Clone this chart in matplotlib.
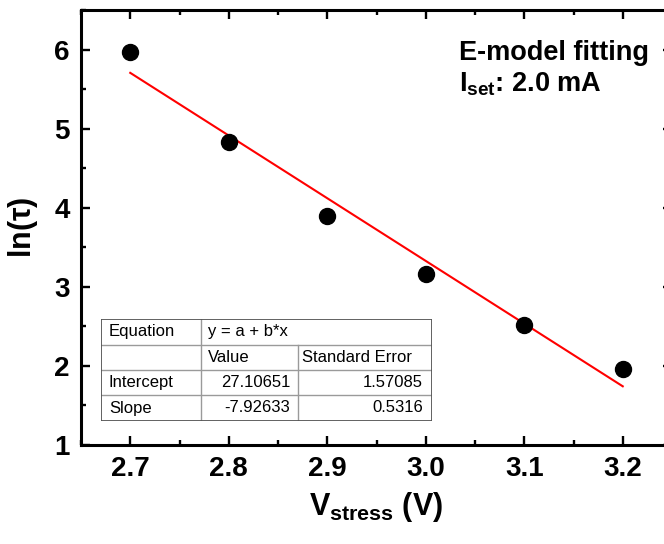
import numpy as np
import matplotlib
matplotlib.use('Agg')
import matplotlib.pyplot as plt
from matplotlib.ticker import MultipleLocator, FormatStrFormatter

plt.rcParams['font.family'] = 'Liberation Sans'
plt.rcParams['font.weight'] = 'bold'
plt.rcParams['mathtext.fontset'] = 'custom'
plt.rcParams['mathtext.rm'] = 'Liberation Sans:bold'
plt.rcParams['mathtext.bf'] = 'Liberation Sans:bold'
plt.rcParams['mathtext.it'] = 'Liberation Sans:bold'
for a in ('xtick', 'ytick'):
    plt.rcParams[a + '.direction'] = 'in'
    plt.rcParams[a + '.major.size'] = 6.5
    plt.rcParams[a + '.minor.size'] = 3.5
    plt.rcParams[a + '.major.width'] = 1.7
    plt.rcParams[a + '.minor.width'] = 1.7
    plt.rcParams[a + '.major.pad'] = 8
    plt.rcParams[a + '.labelsize'] = 20
plt.rcParams['xtick.top'] = True
plt.rcParams['ytick.right'] = True

# stress voltage vs ln(tau)
v_stress = [2.7, 2.8, 2.9, 3.0, 3.1, 3.2]
ln_tau = [5.97, 4.83, 3.90, 3.16, 2.52, 1.96]

# linear fit results y = a + b*x
intercept = 27.10651
intercept_err = 1.57085
slope = -7.92633
slope_err = 0.5316

fig = plt.figure(figsize=(6.64, 5.44), dpi=100)
W, H = 664, 544
ax = fig.add_axes([81 / W, 1 - 445 / H, (672 - 81) / W, (445 - 10) / H])

ax.plot(v_stress, ln_tau, 'o', color='black', markersize=11.5, zorder=3)
xfit = np.array([v_stress[0], v_stress[-1]])
ax.plot(xfit, intercept + slope * xfit, color='red', lw=1.5, zorder=2)

ax.set_xlim(2.65, 3.25)
ax.set_ylim(1, 6.5)
ax.xaxis.set_major_locator(MultipleLocator(0.1))
ax.xaxis.set_minor_locator(MultipleLocator(0.05))
ax.yaxis.set_major_locator(MultipleLocator(1))
ax.yaxis.set_minor_locator(MultipleLocator(0.5))
ax.xaxis.set_major_formatter(FormatStrFormatter('%.1f'))
for s in ax.spines.values():
    s.set_linewidth(2.2)

ax.set_xlabel(r'V$_{\mathbf{stress}}$ (V)', fontsize=22, fontweight='bold', labelpad=6)
ax.set_ylabel(r'ln($\tau$)', fontsize=22, fontweight='bold', labelpad=10)

fig.text(459 / W, 1 - 60 / H, 'E-model fitting', fontsize=19.5, fontweight='bold')
fig.text(459 / W, 1 - 91 / H, r'I$_{\mathbf{set}}$: 2.0 mA', fontsize=19.5, fontweight='bold')

# fit parameter table
tx0, ty0, tw, th = 101, 319, 331, 102
tab = fig.add_axes([tx0 / W, 1 - (ty0 + th) / H, tw / W, th / H])
tab.set_xlim(0, tw)
tab.set_ylim(th, 0)
tab.axis('off')
tab.patch.set_visible(False)
rows = [0, 25.5, 51, 76, 102]
c1, c2 = 100, 197
lc = '#9a9a9a'
for y in rows[1:-1]:
    tab.plot([0, tw], [y, y], color=lc, lw=1)
tab.plot([c1, c1], [0, th], color=lc, lw=1)
tab.plot([c2, c2], [rows[1], th], color=lc, lw=1)
tab.plot([0, tw, tw, 0, 0], [0, 0, th, th, 0], color='#555555', lw=1.3)

cells = [
    ['Equation', 'y = a + b*x', ''],
    ['', 'Value', 'Standard Error'],
    ['Intercept', f'{intercept:.5f}', f'{intercept_err:.5f}'],
    ['Slope', f'{slope:.5f}', f'{slope_err:.4f}'],
]
for i, row in enumerate(cells):
    yc = (rows[i] + rows[i + 1]) / 2
    kw = dict(fontsize=12, fontweight='normal', va='center')
    tab.text(8, yc, row[0], ha='left', **kw)
    if i < 2:
        tab.text(c1 + 7, yc, row[1], ha='left', **kw)
        tab.text(c2 + 4, yc, row[2], ha='left', **kw)
    else:
        tab.text(c2 - 8, yc, row[1], ha='right', **kw)
        tab.text(tw - 9, yc, row[2], ha='right', **kw)

fig.savefig('out.png', dpi=100)
